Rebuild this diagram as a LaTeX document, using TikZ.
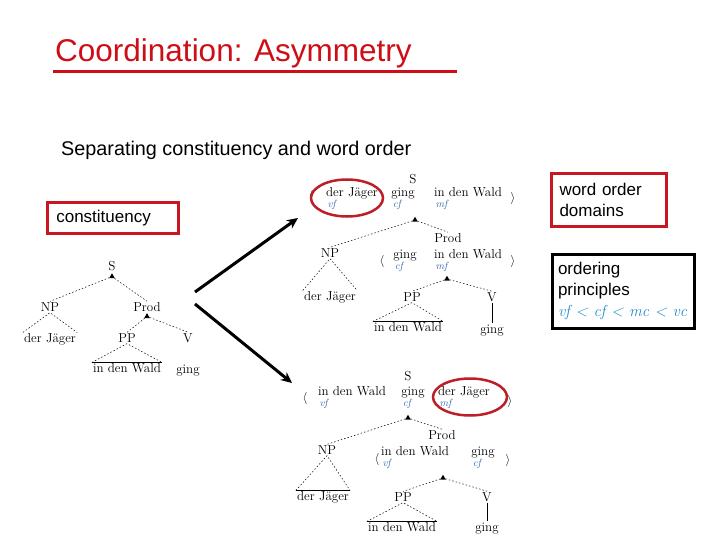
\documentclass[tikz,border=0pt]{standalone}
\usepackage{fontspec}
\newfontfamily\arialfont{Liberation Sans}
\usepackage{tikz}
\usetikzlibrary{arrows.meta, positioning, calc, shapes.geometric}
\usepackage{xcolor}
\definecolor{titlered}{RGB}{206, 14, 22}
\definecolor{boxred}{RGB}{200, 22, 34}
\definecolor{ringred}{RGB}{190, 30, 40}
\definecolor{fieldblue}{RGB}{52, 106, 172}
\definecolor{rulecyan}{RGB}{34, 140, 200}

\begin{document}
\begin{tikzpicture}[
  x=1pt, y=-1pt,
  cat/.style={font=\fontsize{13}{15}\selectfont, inner sep=1pt},
  word/.style={font=\fontsize{13}{15}\selectfont, inner sep=1pt,
    text height=0.85em, text depth=0.22em},
  fld/.style={font=\fontsize{10.5}{11}\selectfont\itshape, text=fieldblue,
    anchor=north west, inner sep=0.5pt, xshift=2pt},
  brk/.style={font=\fontsize{13}{15}\selectfont, inner sep=0pt},
  head/.style={regular polygon, regular polygon sides=3, fill=black,
    inner sep=0pt, minimum size=6.5pt},
  dom/.style={dash pattern=on 1.5pt off 2pt, line width=0.5pt},
  base/.style={line width=0.6pt},
  ring/.style={ellipse, draw=ringred, line width=2.5pt, inner sep=0pt},
  infobox/.style={rectangle, line width=3pt, align=left,
    font=\arialfont\fontsize{17}{21}\selectfont},
  fork/.style={-{Stealth[length=11pt, width=10pt]}, line width=3pt},
]
\useasboundingbox (0,0) rectangle (720,540);

%% Heading
\node[anchor=base west, inner sep=0pt, text=titlered,
  font=\arialfont\fontsize{31.5}{34}\selectfont] (title) at (55,62) {Coordination: Asymmetry};
\draw[titlered, line width=3pt] ($(title.base west)+(-2,10)$) -- ++(404,0);
\node[anchor=base west, inner sep=0pt,
  font=\arialfont\fontsize{19.8}{22}\selectfont] (sub) at (61,156) {Separating constituency and word order};

%% Boxes
\node[infobox, draw=boxred, minimum width=131pt, minimum height=31pt,
  text width=113pt, inner xsep=9pt] (cons) at (112.8,218) {constituency};
\node[infobox, draw=boxred, minimum width=115pt, minimum height=53pt,
  text width=99pt, inner xsep=8pt] (wod) at (609,200) {word order\\domains};
\node[infobox, draw=black, minimum width=142pt, minimum height=74pt,
  text width=130pt, inner xsep=6pt] (prin) at (623,291)
  {ordering\\principles\\{\rmfamily\itshape\fontsize{16}{21}\selectfont\textcolor{rulecyan}{vf < cf < mc < vc}}};

%% Constituency tree
\node[cat] (lS) at (112,266) {S};
\node[head, below=1pt of lS] (lSh) {};
\node[cat] (lNP) at (50,307) {NP};
\node[cat] (lProd) at (147,307) {Prod};
\node[head, below=0pt of lProd] (lProdh) {};
\node[cat] (lPP) at (127,338) {PP};
\node[cat] (lV) at (188,338) {V};
\node[word] (lw1) at (50,339) {der Jäger};
\node[word] (lw2) at (127,369) {in den Wald};
\node[word] (lw3) at (188,370) {ging};
\draw[dom] (lSh) -- (lNP.north);
\draw[dom] (lSh) -- (lProd.north);
\draw[dom] (lw1.north west) -- (lNP.south) -- (lw1.north east);
\draw[dom] (lProdh) -- (lPP.north);
\draw[dom] (lProdh) -- (lV.north);
\draw[dom] (lw2.north west) -- (lPP.south) -- (lw2.north east);
\draw[base] (lw2.north west) -- (lw2.north east);

%% Arrows to the two orders
\coordinate (forkA) at (195,292);
\coordinate (forkB) at (195,304);
\coordinate (upEnd) at (298,218);
\coordinate (dnEnd) at (292,383);
\draw[fork] (forkA) -- (upEnd);
\draw[fork] (forkB) -- (dnEnd);

%% Order 1: der Jäger ging in den Wald
\node[cat] (tS) at (413,179) {S};
\node[brk] (tlb) at (311,197) {$\langle$};
\node[word] (tw1) at (352,193) {der Jäger};
\node[word] (tw2) at (403,193) {ging};
\node[word] (tw3) at (468,193) {in den Wald};
\node[brk] (trb) at (513,199) {$\rangle$};
\node[fld] (tf1) at (tw1.south west) {vf};
\node[fld] (tf2) at (tw2.south west) {cf};
\node[fld] (tf3) at (tw3.south west) {mf};
\node[ring, minimum width=72pt, minimum height=37pt] (tring) at (347,198) {};
\node[head] (tSh) at (415,220) {};
\node[cat] (tNP) at (330,253) {NP};
\node[cat] (tProd) at (448,238) {Prod};
\node[brk] (tlb2) at (382,261) {$\langle$};
\node[word] (tw4) at (405,255) {ging};
\node[word] (tw5) at (468,255) {in den Wald};
\node[brk] (trb2) at (513,261) {$\rangle$};
\node[fld] (tf4) at (tw4.south west) {cf};
\node[fld] (tf5) at (tw5.south west) {mf};
\node[head] (tProdh) at (447,279) {};
\node[word] (tw6) at (330,297) {der Jäger};
\node[cat] (tPP) at (412,297) {PP};
\node[cat] (tV) at (492,297) {V};
\node[word] (tw7) at (408,328) {in den Wald};
\node[word] (tw8) at (492,330) {ging};
\draw[dom] (tSh) -- (tNP.north);
\draw[dom] (tSh) -- (tProd.north);
\draw[dom] (tw6.north west) -- (tNP.south) -- (tw6.north east);
\draw[dom] (tProdh) -- (tPP.north);
\draw[dom] (tProdh) -- (tV.north);
\draw[dom] (tw7.north west) -- (tPP.south) -- (tw7.north east);
\draw[base] (tw7.north west) -- (tw7.north east);
\draw[base] (tV.south) -- (tw8.north);

%% Order 2: in den Wald ging der Jäger
\node[cat] (bS) at (408,376) {S};
\node[brk] (blb) at (305,398) {$\langle$};
\node[word] (bw1) at (352,392) {in den Wald};
\node[word] (bw2) at (413,392) {ging};
\node[word] (bw3) at (464,392) {der Jäger};
\node[brk] (brb) at (510,401) {$\rangle$};
\node[fld] (bf1) at (bw1.south west) {vf};
\node[fld] (bf2) at (bw2.south west) {cf};
\node[fld] (bf3) at (bw3.south west) {mf};
\node[ring, minimum width=74pt, minimum height=37pt] (bring) at (470,397) {};
\node[head] (bSh) at (408,418) {};
\node[cat] (bNP) at (327,450) {NP};
\node[cat] (bProd) at (442,435) {Prod};
\node[brk] (blb2) at (377,459) {$\langle$};
\node[word] (bw4) at (415,452) {in den Wald};
\node[word] (bw5) at (483,452) {ging};
\node[brk] (brb2) at (508,460) {$\rangle$};
\node[fld] (bf4) at (bw4.south west) {vf};
\node[fld] (bf5) at (bw5.south west) {cf};
\node[head] (bProdh) at (443,478) {};
\node[word] (bw6) at (323,497) {der Jäger};
\node[cat] (bPP) at (403,497) {PP};
\node[cat] (bV) at (487,497) {V};
\node[word] (bw7) at (402,528) {in den Wald};
\node[word] (bw8) at (487,528) {ging};
\draw[dom] (bSh) -- (bNP.north);
\draw[dom] (bSh) -- (bProd.north);
\draw[dom] (bw6.north west) -- (bNP.south) -- (bw6.north east);
\draw[base] (bw6.north west) -- (bw6.north east);
\draw[dom] (bProdh) -- (bPP.north);
\draw[dom] (bProdh) -- (bV.north);
\draw[dom] (bw7.north west) -- (bPP.south) -- (bw7.north east);
\draw[base] (bw7.north west) -- (bw7.north east);
\draw[base] (bV.south) -- (bw8.north);

\end{tikzpicture}
\end{document}
